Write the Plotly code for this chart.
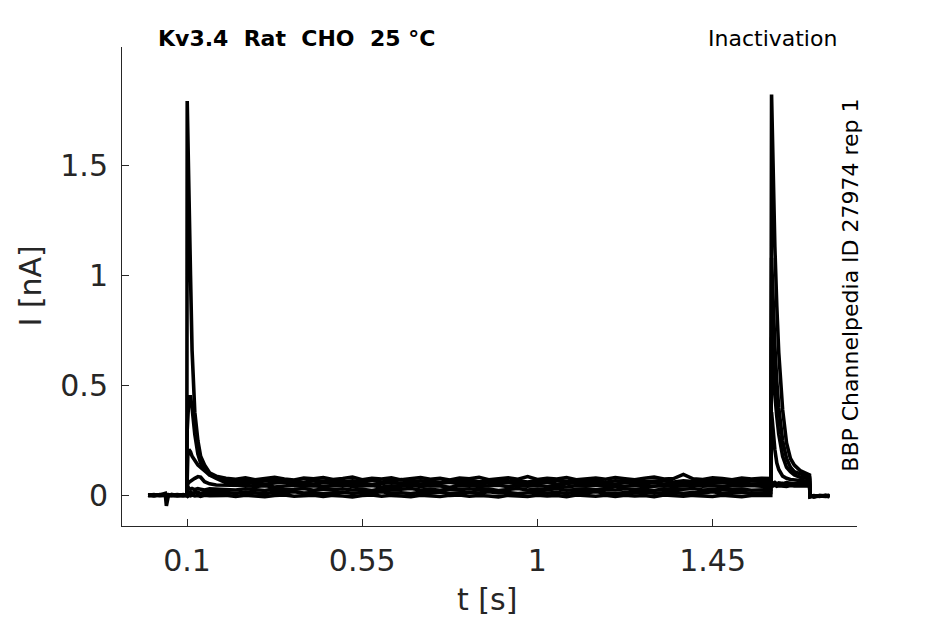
import plotly.graph_objects as go

# time grid (s), split by protocol segment
t_pre = [0.000, 0.015, 0.030, 0.044, 0.047, 0.049, 0.052, 0.060, 0.075, 0.090, 0.0995]
t_on = [0.1005, 0.102, 0.105, 0.109, 0.113, 0.120, 0.128, 0.135, 0.145, 0.158, 0.175]
t_plateau = [
    0.200, 0.225, 0.250, 0.275, 0.300, 0.325, 0.350, 0.375,
    0.400, 0.425, 0.450, 0.475, 0.500, 0.525, 0.550, 0.575,
    0.600, 0.625, 0.650, 0.675, 0.700, 0.725, 0.750, 0.775,
    0.800, 0.825, 0.850, 0.875, 0.900, 0.925, 0.950, 0.975,
    1.000, 1.025, 1.050, 1.075, 1.100, 1.125, 1.150, 1.175,
    1.200, 1.225, 1.250, 1.275, 1.300, 1.325, 1.350, 1.375,
    1.400, 1.425, 1.450, 1.475, 1.500, 1.525, 1.550, 1.575,
]
t_test = [1.5995, 1.6015, 1.605, 1.610, 1.615, 1.620, 1.630, 1.640, 1.650, 1.660, 1.675, 1.690, 1.699]
t_tail = [1.7005, 1.710, 1.725, 1.740, 1.750]

# current (nA) per sweep and segment
s1_pre = [0.003, 0.006, 0.002, 0.004, 0.005, 0.001, 0.004, 0.006, 0.003, 0.005, 0.004]
s1_on = [1.79, 1.60, 1.32, 1.00, 0.66, 0.38, 0.25, 0.18, 0.14, 0.105, 0.09]
s1_plateau = [
    0.080, 0.076, 0.082, 0.074, 0.079, 0.085, 0.077, 0.072,
    0.081, 0.078, 0.083, 0.075, 0.079, 0.086, 0.074, 0.080,
    0.077, 0.082, 0.073, 0.079, 0.084, 0.076, 0.080, 0.072,
    0.081, 0.078, 0.085, 0.074, 0.079, 0.082, 0.076, 0.088,
    0.075, 0.080, 0.077, 0.083, 0.074, 0.079, 0.081, 0.076,
    0.084, 0.078, 0.073, 0.080, 0.086, 0.077, 0.079, 0.098,
    0.078, 0.075, 0.082, 0.079, 0.074, 0.081, 0.077, 0.080,
]
s1_test = [0.079, 0.060, 0.057, 0.062, 0.055, 0.059, 0.056, 0.061, 0.058, 0.054, 0.060, 0.057, 0.059]
s1_tail = [0.002, -0.003, 0.001, -0.002, 0.000]

s2_pre = [0.005, 0.002, 0.004, 0.006, 0.003, 0.005, 0.002, 0.004, 0.006, 0.003, 0.005]
s2_on = [0.30, 0.40, 0.45, 0.45, 0.40, 0.28, 0.19, 0.15, 0.12, 0.095, 0.085]
s2_plateau = [
    0.070, 0.066, 0.071, 0.064, 0.069, 0.073, 0.065, 0.068,
    0.062, 0.070, 0.067, 0.072, 0.064, 0.069, 0.066, 0.071,
    0.063, 0.068, 0.074, 0.065, 0.069, 0.067, 0.062, 0.070,
    0.066, 0.072, 0.064, 0.068, 0.071, 0.065, 0.069, 0.063,
    0.070, 0.067, 0.073, 0.064, 0.068, 0.066, 0.071, 0.062,
    0.069, 0.067, 0.072, 0.065, 0.068, 0.070, 0.063, 0.069,
    0.066, 0.071, 0.064, 0.068, 0.072, 0.065, 0.069, 0.067,
]
s2_test = [0.067, 0.052, 0.055, 0.050, 0.054, 0.051, 0.056, 0.049, 0.053, 0.055, 0.050, 0.054, 0.052]
s2_tail = [-0.004, 0.001, -0.002, 0.003, -0.001]

s3_pre = [0.002, 0.005, 0.003, 0.001, 0.004, 0.006, 0.003, 0.002, 0.005, 0.004, 0.002]
s3_on = [0.12, 0.18, 0.21, 0.20, 0.18, 0.16, 0.14, 0.13, 0.115, 0.095, 0.08]
s3_plateau = [
    0.060, 0.055, 0.061, 0.057, 0.053, 0.059, 0.062, 0.056,
    0.058, 0.054, 0.060, 0.057, 0.063, 0.055, 0.059, 0.052,
    0.058, 0.061, 0.056, 0.060, 0.054, 0.059, 0.057, 0.062,
    0.055, 0.058, 0.053, 0.060, 0.057, 0.061, 0.055, 0.059,
    0.056, 0.062, 0.054, 0.058, 0.060, 0.055, 0.059, 0.057,
    0.053, 0.061, 0.058, 0.056, 0.060, 0.054, 0.059, 0.057,
    0.062, 0.055, 0.058, 0.060, 0.056, 0.059, 0.054, 0.058,
]
s3_test = [0.058, 0.048, 0.045, 0.049, 0.044, 0.047, 0.046, 0.043, 0.048, 0.045, 0.047, 0.044, 0.046]
s3_tail = [0.001, -0.002, 0.002, 0.000, -0.003]

s4_pre = [0.006, 0.003, 0.005, 0.004, 0.002, 0.004, 0.006, 0.003, 0.004, 0.002, 0.005]
s4_on = [0.04, 0.055, 0.062, 0.068, 0.072, 0.08, 0.088, 0.085, 0.065, 0.055, 0.05]
s4_plateau = [
    0.050, 0.046, 0.048, 0.043, 0.047, 0.041, 0.046, 0.049,
    0.044, 0.047, 0.042, 0.046, 0.050, 0.043, 0.045, 0.048,
    0.041, 0.046, 0.044, 0.049, 0.043, 0.047, 0.045, 0.040,
    0.046, 0.048, 0.043, 0.045, 0.049, 0.042, 0.047, 0.044,
    0.048, 0.043, 0.046, 0.041, 0.047, 0.045, 0.049, 0.043,
    0.046, 0.044, 0.048, 0.042, 0.045, 0.047, 0.043, 0.046,
    0.049, 0.044, 0.047, 0.042, 0.046, 0.045, 0.048, 0.044,
]
s4_test = [0.044, 0.38, 0.30, 0.21, 0.15, 0.12, 0.09, 0.08, 0.075, 0.072, 0.07, 0.068, 0.07]
s4_tail = [-0.002, 0.002, -0.001, 0.001, 0.003]

s5_pre = [0.004, 0.001, 0.006, 0.003, 0.005, 0.002, 0.004, 0.005, 0.001, 0.006, 0.003]
s5_on = [0.025, 0.032, 0.036, 0.030, 0.034, 0.029, 0.033, 0.031, 0.027, 0.032, 0.030]
s5_plateau = [
    0.031, 0.027, 0.033, 0.029, 0.025, 0.032, 0.028, 0.030,
    0.034, 0.026, 0.031, 0.029, 0.033, 0.027, 0.030, 0.025,
    0.032, 0.028, 0.031, 0.034, 0.027, 0.030, 0.026, 0.032,
    0.029, 0.033, 0.028, 0.031, 0.025, 0.030, 0.034, 0.027,
    0.031, 0.029, 0.033, 0.026, 0.030, 0.032, 0.028, 0.031,
    0.027, 0.033, 0.029, 0.030, 0.025, 0.032, 0.028, 0.031,
    0.034, 0.027, 0.030, 0.032, 0.028, 0.031, 0.026, 0.030,
]
s5_test = [0.030, 0.72, 0.60, 0.46, 0.36, 0.28, 0.18, 0.13, 0.11, 0.095, 0.085, 0.08, 0.078]
s5_tail = [0.000, -0.003, 0.002, -0.001, 0.001]

s6_pre = [0.001, 0.004, 0.002, 0.005, 0.003, 0.004, 0.001, 0.006, 0.004, 0.003, 0.002]
s6_on = [0.012, 0.016, 0.014, 0.018, 0.013, 0.015, 0.017, 0.012, 0.016, 0.014, 0.015]
s6_plateau = [
    0.016, 0.012, 0.018, 0.014, 0.011, 0.017, 0.015, 0.019,
    0.013, 0.016, 0.010, 0.015, 0.018, 0.012, 0.016, 0.014,
    0.019, 0.013, 0.015, 0.011, 0.017, 0.014, 0.018, 0.012,
    0.015, 0.017, 0.013, 0.019, 0.014, 0.016, 0.011, 0.015,
    0.018, 0.013, 0.016, 0.012, 0.017, 0.015, 0.019, 0.014,
    0.011, 0.016, 0.014, 0.018, 0.013, 0.015, 0.017, 0.012,
    0.016, 0.014, 0.019, 0.013, 0.015, 0.017, 0.012, 0.016,
]
s6_test = [0.016, 1.08, 0.89, 0.68, 0.52, 0.40, 0.25, 0.17, 0.13, 0.11, 0.10, 0.088, 0.085]
s6_tail = [-0.003, 0.001, -0.001, 0.002, -0.002]

s7_pre = [0.004, 0.002, 0.005, 0.012, -0.045, -0.015, 0.000, 0.003, 0.002, 0.004, 0.003]
s7_on = [0.002, -0.001, 0.003, 0.001, 0.004, 0.000, 0.002, -0.002, 0.003, 0.001, 0.002]
s7_plateau = [
    0.003, -0.002, 0.004, 0.000, -0.003, 0.002, 0.005, -0.001,
    0.001, 0.004, -0.002, 0.003, 0.000, -0.004, 0.002, 0.005,
    -0.001, 0.003, 0.000, -0.003, 0.004, 0.001, -0.002, 0.003,
    0.005, -0.001, 0.002, 0.000, -0.004, 0.003, 0.001, -0.002,
    0.004, 0.000, 0.002, -0.003, 0.005, 0.001, -0.001, 0.003,
    -0.002, 0.004, 0.000, 0.002, -0.003, 0.005, 0.001, -0.001,
    0.003, 0.000, -0.002, 0.004, 0.001, -0.003, 0.002, 0.000,
]
s7_test = [0.002, 1.82, 1.49, 1.13, 0.86, 0.65, 0.39, 0.24, 0.17, 0.14, 0.115, 0.105, 0.095]
s7_tail = [0.001, -0.004, 0.000, -0.002, 0.002]

x_ticks = [0.1, 0.55, 1, 1.45]
x_ticktext = ["0.1", "0.55", "1", "1.45"]
y_ticks = [0, 0.5, 1, 1.5]
y_ticktext = ["0", "0.5", "1", "1.5"]

t_all = t_pre + t_on + t_plateau + t_test + t_tail
sweeps = [
    s1_pre + s1_on + s1_plateau + s1_test + s1_tail,
    s2_pre + s2_on + s2_plateau + s2_test + s2_tail,
    s3_pre + s3_on + s3_plateau + s3_test + s3_tail,
    s4_pre + s4_on + s4_plateau + s4_test + s4_tail,
    s5_pre + s5_on + s5_plateau + s5_test + s5_tail,
    s6_pre + s6_on + s6_plateau + s6_test + s6_tail,
    s7_pre + s7_on + s7_plateau + s7_test + s7_tail,
]

fig = go.Figure()
for ys in sweeps:
    fig.add_trace(go.Scatter(x=t_all, y=ys, mode="lines",
                             line=dict(color="black", width=3.6),
                             showlegend=False, hoverinfo="skip"))

# page body adds an 8px offset, so the figure is 16px smaller than the window
tick_font = dict(family="DejaVu Sans", size=30, color="#262626")
fig.update_layout(
    width=929, height=608,
    margin=dict(l=114, r=80, t=39, b=90),
    paper_bgcolor="white", plot_bgcolor="white",
    font=dict(family="DejaVu Sans", color="#262626"),
    xaxis=dict(range=[-0.067, 1.821], tickvals=x_ticks, ticktext=x_ticktext,
               ticks="inside", ticklen=7, tickcolor="#262626",
               showline=True, linecolor="#262626", linewidth=1,
               showgrid=False, zeroline=False, tickfont=tick_font,
               ticklabelstandoff=8, automargin=False),
    yaxis=dict(range=[-0.136, 2.035], tickvals=y_ticks, ticktext=y_ticktext,
               ticks="inside", ticklen=7, tickcolor="#262626",
               showline=True, linecolor="#262626", linewidth=1,
               showgrid=False, zeroline=False, tickfont=tick_font,
               ticklabelstandoff=7, automargin=False),
)

# axis titles
fig.add_annotation(text="t [s]", xref="paper", yref="paper", x=0.497, y=0,
                   xanchor="center", yanchor="middle", yshift=-73, showarrow=False,
                   font=tick_font)
fig.add_annotation(text="I [nA]", xref="paper", yref="paper", x=0, y=0.5,
                   xanchor="center", yanchor="middle", xshift=-92, textangle=-90,
                   showarrow=False, font=tick_font)

fig.add_annotation(text="Kv3.4\u00a0\u00a0Rat\u00a0\u00a0CHO\u00a0\u00a025\u00a0°C",
                   xref="paper", yref="paper", x=0.046, y=1.0,
                   xanchor="left", yanchor="bottom", yshift=-6, showarrow=False,
                   font=dict(family="DejaVu Sans", size=22, color="black", weight="bold"))
fig.add_annotation(text="Inactivation", xref="paper", yref="paper", x=0.976, y=1.0,
                   xanchor="right", yanchor="bottom", yshift=-6, showarrow=False,
                   font=dict(family="DejaVu Sans", size=22, color="black"))
fig.add_annotation(text="BBP Channelpedia ID 27974 rep 1", xref="paper", yref="paper",
                   x=0.99, y=0.503, xanchor="center", yanchor="middle", textangle=-90,
                   showarrow=False, font=dict(family="DejaVu Sans", size=22, color="black"))

fig.write_html("out.html")
